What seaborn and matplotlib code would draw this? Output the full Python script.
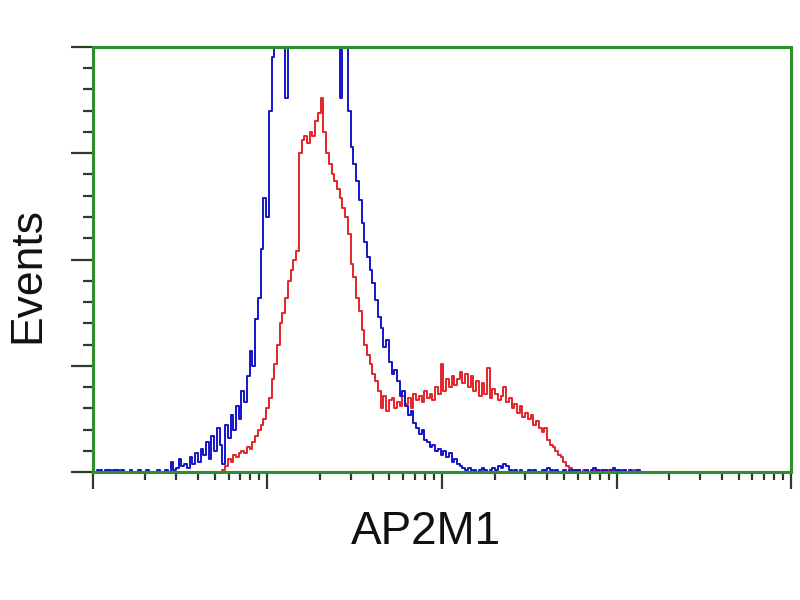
"""AP2M1 flow cytometry histogram: blue = control, red = stained."""
import matplotlib
matplotlib.use("Agg")
import matplotlib.pyplot as plt
import numpy as np
import pandas as pd
import seaborn as sns
from matplotlib.ticker import LogLocator, MultipleLocator, NullFormatter

# 256 log channels spanning 4 decades (channel / 64 = log10 of intensity)
N_CHANNELS = 256
CH_PER_DECADE = 64

BLUE_COUNTS = [
    9, 0, 1, 1, 0, 1, 1, 0, 1, 1, 0, 1, 0, 0, 1, 0,
    0, 1, 0, 0, 1, 0, 0, 0, 1, 0, 0, 1, 0, 5, 1, 2,
    6, 3, 4, 2, 7, 4, 9, 5, 11, 8, 14, 6, 17, 10, 21, 13,
    4, 22, 16, 27, 20, 31, 25, 38, 33, 45, 57, 50, 72, 82, 105, 129,
    120, 170, 195, 215, 240, 225, 260, 176, 230, 240, 255, 270, 250, 280, 265, 290,
    270, 285, 260, 275, 250, 265, 240, 255, 235, 245, 230, 176, 215, 205, 170, 153,
    145, 137, 128, 117, 108, 101, 95, 89, 81, 73, 68, 59, 62, 52, 46, 48,
    43, 36, 38, 31, 27, 29, 23, 21, 18, 20, 15, 14, 12, 13, 10, 11,
    8, 10, 7, 9, 5, 6, 4, 3, 2, 1, 2, 0, 1, 0, 1, 2,
    1, 0, 1, 2, 1, 3, 2, 4, 3, 1, 0, 1, 0, 1, 0, 0,
    1, 0, 1, 0, 0, 1, 1, 2, 1, 0, 1, 0, 0, 1, 0, 1,
    0, 1, 1, 0, 0, 1, 0, 1, 2, 1, 0, 1, 1, 0, 1, 2,
    1, 1, 0, 1, 0, 1, 0, 0, 1, 0, 0, 0, 0, 0, 0, 0,
    0, 0, 0, 0, 0, 0, 0, 0, 0, 0, 0, 0, 0, 0, 0, 0,
    0, 0, 0, 0, 0, 0, 0, 0, 0, 0, 0, 0, 0, 0, 0, 0,
    0, 0, 0, 0, 0, 0, 0, 0, 0, 0, 0, 0, 0, 0, 0, 0,
]

RED_COUNTS = [
    0, 0, 0, 0, 0, 0, 0, 0, 0, 0, 0, 0, 0, 0, 0, 0,
    0, 0, 0, 0, 0, 0, 0, 0, 0, 0, 0, 0, 0, 0, 0, 0,
    0, 0, 0, 0, 0, 0, 0, 0, 0, 0, 0, 0, 0, 0, 0, 0,
    1, 3, 6, 5, 8, 7, 9, 10, 9, 12, 11, 14, 17, 20, 22, 25,
    30, 35, 44, 51, 60, 70, 75, 82, 90, 95, 100, 104, 150, 156, 158, 155,
    160, 158, 165, 169, 176, 160, 150, 145, 140, 137, 133, 129, 124, 120, 112, 98,
    92, 82, 76, 67, 60, 55, 51, 46, 43, 38, 30, 36, 29, 34, 35, 30,
    33, 31, 36, 32, 35, 30, 37, 34, 36, 33, 38, 35, 37, 34, 40, 37,
    51, 38, 44, 40, 45, 41, 44, 47, 42, 46, 40, 45, 38, 43, 36, 42,
    37, 49, 35, 39, 37, 34, 36, 40, 33, 35, 30, 32, 28, 31, 26, 28,
    25, 27, 22, 24, 21, 19, 21, 15, 13, 12, 10, 8, 7, 5, 3, 2,
    1, 0, 1, 0, 1, 1, 0, 0, 1, 0, 1, 0, 0, 1, 0, 0,
    1, 0, 0, 1, 0, 0, 0, 1, 0, 0, 0, 0, 0, 0, 0, 0,
    0, 0, 0, 0, 0, 0, 0, 0, 0, 0, 0, 0, 0, 0, 0, 0,
    0, 0, 0, 0, 0, 0, 0, 0, 0, 0, 0, 0, 0, 0, 0, 0,
    0, 0, 0, 0, 0, 0, 0, 0, 0, 0, 0, 0, 0, 0, 0, 0,
]

X_LABEL = "AP2M1"
Y_LABEL = "Events"

GREEN = "#2f8f2f"
TICK_COLOR = "#263f26"
BLUE = "#1414c8"
RED = "#e3262a"


def main() -> None:
    sns.set_style("white")
    plt.rcParams["font.family"] = ["Liberation Sans", "DejaVu Sans"]

    channels = np.arange(N_CHANNELS)
    df = pd.DataFrame({
        "intensity": 10.0 ** (channels / CH_PER_DECADE),
        "control": BLUE_COUNTS,
        "stained": RED_COUNTS,
    })

    fig = plt.figure(figsize=(8, 6), dpi=100)
    ax = fig.add_axes([0.116, 0.213, 0.873, 0.709])

    sns.lineplot(data=df, x="intensity", y="stained", ax=ax, color=RED,
                 lw=1.4, drawstyle="steps-mid", estimator=None)
    sns.lineplot(data=df, x="intensity", y="control", ax=ax, color=BLUE,
                 lw=1.4, drawstyle="steps-mid", estimator=None)

    ax.set_xscale("log")
    ax.set_xlim(1, 1e4)
    ax.set_ylim(0, 200)

    ax.xaxis.set_major_locator(LogLocator(base=10, numticks=10))
    ax.xaxis.set_minor_locator(LogLocator(base=10, subs=np.arange(2, 10), numticks=20))
    ax.yaxis.set_major_locator(MultipleLocator(50))
    ax.yaxis.set_minor_locator(MultipleLocator(10))
    ax.xaxis.set_major_formatter(NullFormatter())
    ax.xaxis.set_minor_formatter(NullFormatter())
    ax.yaxis.set_major_formatter(NullFormatter())

    ax.tick_params(axis="x", which="major", direction="out", length=12, width=1.6,
                   color=TICK_COLOR, bottom=True)
    ax.tick_params(axis="x", which="minor", direction="out", length=6, width=1.6,
                   color=TICK_COLOR, bottom=True)
    ax.tick_params(axis="y", which="major", direction="out", length=16, width=1.6,
                   color=TICK_COLOR, left=True)
    ax.tick_params(axis="y", which="minor", direction="out", length=7, width=1.6,
                   color=TICK_COLOR, left=True)

    for side in ["left", "right", "top", "bottom"]:
        ax.spines[side].set_visible(True)
        ax.spines[side].set_color(GREEN)
        ax.spines[side].set_linewidth(2.2)

    ax.set_xlabel("")
    ax.set_ylabel("")
    fig.text(426 / 800, 1 - 532 / 600, X_LABEL, fontsize=33, color="#111111",
             ha="center", va="center")
    fig.text(28 / 800, 1 - 275 / 600, Y_LABEL, fontsize=32, color="#111111",
             ha="center", va="center", rotation=90)

    fig.savefig("out.png", dpi=100, facecolor="white")
    plt.close(fig)


if __name__ == "__main__":
    main()
